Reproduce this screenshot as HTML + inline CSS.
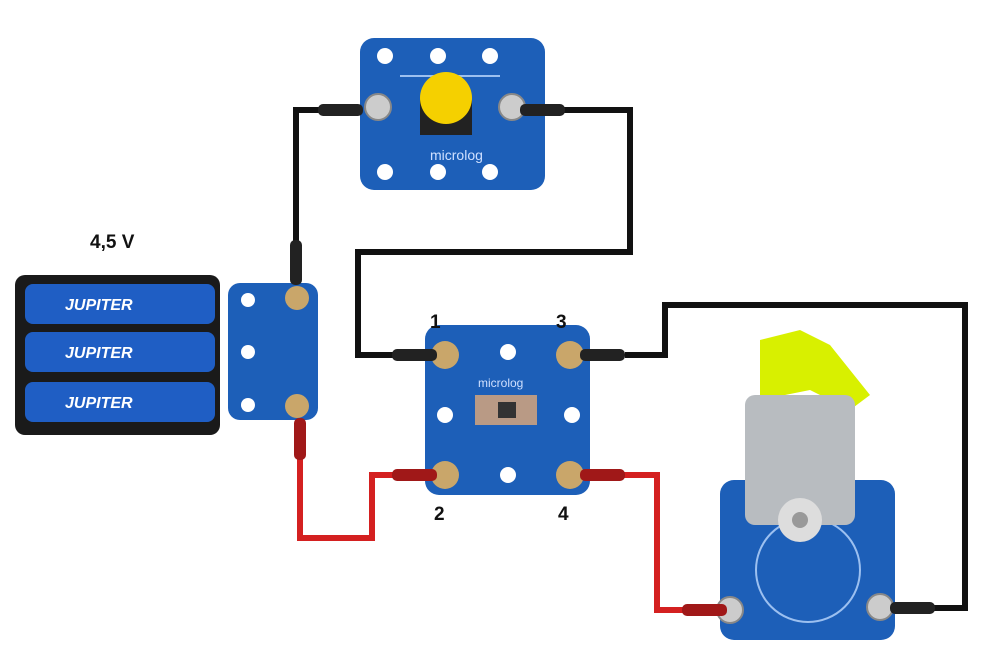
<!DOCTYPE html>
<html><head><meta charset="utf-8"><style>
html,body{margin:0;padding:0;background:#fff;}
svg{display:block;}
text{font-family:"Liberation Sans",sans-serif;}
</style></head><body>
<svg width="999" height="654" viewBox="0 0 999 654" xmlns="http://www.w3.org/2000/svg">
<rect width="999" height="654" fill="#fff"/>
<!-- wires -->
<g fill="none" stroke-width="6" stroke-linejoin="miter">
<polyline stroke="#111" points="296,255 296,110 345,110"/>
<polyline stroke="#111" points="545,110 630,110 630,252 358,252 358,355 410,355"/>
<polyline stroke="#111" points="625,355 665,355 665,305 965,305 965,608 905,608"/>
<polyline stroke="#d42020" points="300,455 300,538 372,538 372,475 410,475"/>
<polyline stroke="#d42020" points="615,475 657,475 657,610 700,610"/>
</g>
<!-- button module -->
<rect x="360" y="38" width="185" height="152" rx="14" fill="#1d5fb8"/>
<g fill="#fff"><circle cx="385" cy="56" r="8"/><circle cx="438" cy="56" r="8"/><circle cx="490" cy="56" r="8"/>
<circle cx="385" cy="172" r="8"/><circle cx="438" cy="172" r="8"/><circle cx="490" cy="172" r="8"/></g>
<line x1="400" y1="76" x2="500" y2="76" stroke="#9cc0f0" stroke-width="2"/>
<circle cx="378" cy="107" r="13" fill="#ccc" stroke="#888" stroke-width="2"/>
<circle cx="512" cy="107" r="13" fill="#ccc" stroke="#888" stroke-width="2"/>
<rect x="420" y="100" width="52" height="35" fill="#222"/>
<circle cx="446" cy="98" r="26" fill="#f5d000"/>
<text x="430" y="160" font-size="14" fill="#cfe0ff">microlog</text>
<!-- battery pack -->
<rect x="15" y="275" width="205" height="160" rx="10" fill="#1a1a1a"/>
<rect x="25" y="284" width="190" height="40" rx="8" fill="#1f5ec4"/>
<rect x="25" y="332" width="190" height="40" rx="8" fill="#1f5ec4"/>
<rect x="25" y="382" width="190" height="40" rx="8" fill="#1f5ec4"/>
<g font-size="16" font-weight="bold" fill="#fff" font-style="italic"><text x="65" y="310">JUPITER</text><text x="65" y="358">JUPITER</text><text x="65" y="408">JUPITER</text></g>
<!-- battery module -->
<rect x="228" y="283" width="90" height="137" rx="12" fill="#1d5fb8"/>
<circle cx="297" cy="298" r="12" fill="#c9a66a"/>
<circle cx="297" cy="406" r="12" fill="#c9a66a"/>
<circle cx="248" cy="300" r="7" fill="#fff"/><circle cx="248" cy="405" r="7" fill="#fff"/><circle cx="248" cy="352" r="7" fill="#fff"/>
<!-- switch module -->
<rect x="425" y="325" width="165" height="170" rx="14" fill="#1d5fb8"/>
<circle cx="445" cy="355" r="14" fill="#c9a66a"/><circle cx="570" cy="355" r="14" fill="#c9a66a"/>
<circle cx="445" cy="475" r="14" fill="#c9a66a"/><circle cx="570" cy="475" r="14" fill="#c9a66a"/>
<g fill="#fff"><circle cx="508" cy="352" r="8"/><circle cx="508" cy="475" r="8"/><circle cx="445" cy="415" r="8"/><circle cx="572" cy="415" r="8"/></g>
<rect x="475" y="395" width="62" height="30" fill="#b99a85"/>
<rect x="498" y="402" width="18" height="16" fill="#333"/>
<text x="478" y="387" font-size="12" fill="#cfe0ff">microlog</text>
<!-- motor module -->
<rect x="720" y="480" width="175" height="160" rx="14" fill="#1d5fb8"/>
<circle cx="808" cy="570" r="52" fill="none" stroke="#9cc0f0" stroke-width="2"/>
<circle cx="730" cy="610" r="13" fill="#ccc" stroke="#888" stroke-width="2"/>
<circle cx="880" cy="607" r="13" fill="#ccc" stroke="#888" stroke-width="2"/>
<path d="M760,340 L800,330 L830,345 L870,395 L850,410 L810,390 L760,400 Z" fill="#d8f000"/>
<rect x="745" y="395" width="110" height="130" rx="10" fill="#b8bcc0"/>
<circle cx="800" cy="520" r="22" fill="#ddd"/>
<circle cx="800" cy="520" r="8" fill="#999"/>
<!-- plugs -->
<g>
<rect x="318" y="104" width="45" height="12" rx="5" fill="#222"/>
<rect x="520" y="104" width="45" height="12" rx="5" fill="#222"/>
<rect x="290" y="240" width="12" height="45" rx="5" fill="#222"/>
<rect x="392" y="349" width="45" height="12" rx="5" fill="#222"/>
<rect x="580" y="349" width="45" height="12" rx="5" fill="#222"/>
<rect x="890" y="602" width="45" height="12" rx="5" fill="#222"/>
<rect x="294" y="418" width="12" height="42" rx="5" fill="#a01818"/>
<rect x="392" y="469" width="45" height="12" rx="5" fill="#a01818"/>
<rect x="580" y="469" width="45" height="12" rx="5" fill="#a01818"/>
<rect x="682" y="604" width="45" height="12" rx="5" fill="#a01818"/>
</g>
<!-- labels -->
<g font-weight="bold" font-size="19" fill="#111">
<text x="90" y="248">4,5 V</text>
<text x="430" y="328">1</text><text x="556" y="328">3</text>
<text x="434" y="520">2</text><text x="558" y="520">4</text>
</g>
</svg>
</body></html>
